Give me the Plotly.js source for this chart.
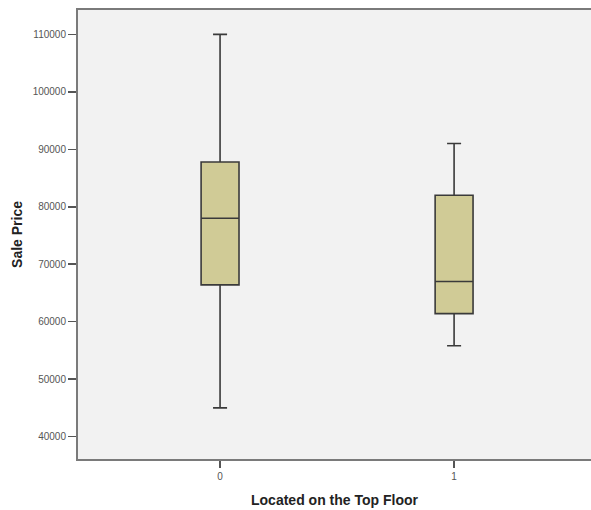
<!DOCTYPE html>
<html>
<head>
<meta charset="utf-8">
<script src="https://cdn.plot.ly/plotly-3.0.1.min.js"></script>
<style>
  html, body { margin: 0; padding: 0; background: #ffffff; }
  #chart { width: 591px; height: 510px; }
</style>
</head>
<body>
<div id="chart"></div>
<script>
// Sale price summary by whether the flat is on the top floor
const categories = ['0', '1'];
const lowerWhisker = [45000, 55800];
const q1 = [66400, 61400];
const median = [78000, 67000];
const q3 = [87800, 82000];
const upperWhisker = [110000, 91000];
const priceTicks = [40000, 50000, 60000, 70000, 80000, 90000, 100000, 110000];

const FONT = 'Liberation Sans, Arial, Helvetica, sans-serif';

const trace = {
  type: 'box',
  x: categories,
  q1: q1,
  median: median,
  q3: q3,
  lowerfence: lowerWhisker,
  upperfence: upperWhisker,
  boxpoints: false,
  width: 0.162,
  whiskerwidth: 0.37,
  fillcolor: '#D0CB96',
  line: { color: '#3a3a3a', width: 1.6 },
  hoverinfo: 'skip',
  showlegend: false
};

const layout = {
  width: 591,
  height: 510,
  margin: { l: 78, r: 0, t: 10, b: 51 },
  paper_bgcolor: '#ffffff',
  plot_bgcolor: '#F2F2F2',
  font: { family: FONT, color: '#444444', size: 10 },
  xaxis: {
    type: 'category',
    range: [-0.607, 1.585],
    showgrid: false,
    zeroline: false,
    showline: true,
    mirror: true,
    linecolor: '#7a7a7a',
    linewidth: 2,
    ticks: 'outside',
    ticklen: 7,
    tickwidth: 1.5,
    tickcolor: '#555555',
    tickfont: { family: FONT, size: 10, color: '#555555' },
    title: {
      text: '<b>Located on the Top Floor</b>',
      font: { family: FONT, size: 14, color: '#222222' },
      standoff: 14
    }
  },
  yaxis: {
    range: [36100, 114240],
    tickvals: priceTicks,
    ticktext: priceTicks.map(String),
    showgrid: false,
    zeroline: false,
    showline: true,
    linecolor: '#7a7a7a',
    linewidth: 2,
    ticks: 'outside',
    ticklen: 8,
    tickwidth: 1.5,
    tickcolor: '#555555',
    tickfont: { family: FONT, size: 10, color: '#555555' },
    title: {
      text: '<b>Sale Price</b>',
      font: { family: FONT, size: 14, color: '#222222' },
      standoff: 7
    }
  }
};

Plotly.newPlot('chart', [trace], layout, { staticPlot: true, displayModeBar: false });
</script>
</body>
</html>
